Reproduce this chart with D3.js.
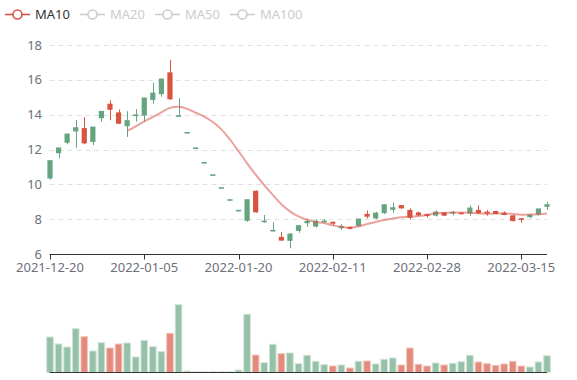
<!DOCTYPE html>
<html>
<head>
<meta charset="utf-8">
<script src="https://cdn.jsdelivr.net/npm/d3@7/dist/d3.min.js"></script>
<style>
  html, body { margin: 0; padding: 0; background: #fff; }
  svg { display: block; font-family: "Noto Sans", sans-serif; }
</style>
</head>
<body>
<svg id="chart" width="577" height="380"></svg>
<script>
// trading days (categories)
var dates = [
  "2021-12-20","2021-12-21","2021-12-22","2021-12-23","2021-12-24","2021-12-27","2021-12-28","2021-12-29","2021-12-30","2021-12-31",
  "2022-01-04","2022-01-05","2022-01-06","2022-01-07","2022-01-10","2022-01-11","2022-01-12","2022-01-13","2022-01-14","2022-01-17",
  "2022-01-18","2022-01-19","2022-01-20","2022-01-21","2022-01-24","2022-01-25","2022-01-26","2022-01-27","2022-01-28","2022-02-07",
  "2022-02-08","2022-02-09","2022-02-10","2022-02-11","2022-02-14","2022-02-15","2022-02-16","2022-02-17","2022-02-18","2022-02-21",
  "2022-02-22","2022-02-23","2022-02-24","2022-02-25","2022-02-28","2022-03-01","2022-03-02","2022-03-03","2022-03-04","2022-03-07",
  "2022-03-08","2022-03-09","2022-03-10","2022-03-11","2022-03-14","2022-03-15","2022-03-16","2022-03-17","2022-03-18"
];
var opens = [
  10.29,11.74,12.34,12.99,13.23,12.39,13.75,14.63,14.13,13.29,
  13.87,13.90,14.80,15.13,16.43,13.91,12.95,12.06,11.23,10.52,
  9.78,9.09,8.48,7.86,9.63,7.80,7.29,6.98,6.71,7.28,
  7.72,7.53,7.82,7.85,7.44,7.55,7.57,8.30,8.00,8.30,
  8.49,8.81,8.53,8.39,8.30,8.16,8.39,8.30,8.33,8.28,
  8.53,8.43,8.47,8.37,8.22,8.05,8.07,8.22,8.66
];
var closes = [
  11.34,12.07,12.87,13.23,12.35,13.27,14.17,14.28,13.48,13.64,
  13.97,14.94,15.22,16.03,14.88,13.92,12.96,12.07,11.24,10.53,
  9.79,9.10,8.49,9.10,8.39,7.87,7.34,6.77,7.13,7.61,
  7.85,7.86,7.87,7.74,7.55,7.44,7.99,8.14,8.33,8.81,
  8.64,8.62,8.08,8.22,8.18,8.39,8.20,8.37,8.33,8.62,
  8.34,8.32,8.30,8.24,7.89,7.99,8.22,8.57,8.81
];
var lows = [
  10.27,11.49,12.30,12.10,12.30,12.25,13.60,13.68,13.46,12.72,
  13.60,13.60,14.63,15.03,14.85,13.91,12.95,12.06,11.23,10.52,
  9.78,9.09,8.48,7.85,8.37,7.80,7.29,6.76,6.33,7.22,
  7.55,7.52,7.80,7.64,7.38,7.42,7.56,8.04,8.00,8.29,
  8.37,8.60,7.99,8.20,8.10,8.15,8.19,8.22,8.27,8.18,
  8.30,8.20,8.29,8.23,7.87,7.80,8.05,8.20,8.53
];
var highs = [
  11.36,12.09,12.90,13.69,13.86,13.28,14.20,14.82,14.30,14.20,
  14.32,14.96,15.83,16.05,17.14,14.94,12.96,12.07,11.24,10.53,
  9.79,9.10,8.49,9.12,9.65,8.24,7.82,7.27,7.19,7.62,
  8.03,8.00,8.00,7.86,7.71,7.58,8.00,8.49,8.42,8.83,
  8.94,8.82,8.62,8.42,8.31,8.51,8.40,8.49,8.40,8.79,
  8.79,8.53,8.48,8.45,8.23,8.06,8.24,8.58,9.00
];
var volumes = [
  35.3,28.3,25.3,43.6,35.6,21.3,29.6,24.3,28.3,29.3,
  15.3,32.0,25.6,20.6,39.0,67.6,1.3,0.5,0.5,0.5,
  0.5,0.5,2.3,58.0,17.3,9.6,28.0,18.6,19.3,8.6,
  17.0,11.0,7.6,6.3,7.3,4.3,11.0,11.3,8.3,13.0,
  14.3,7.3,24.3,8.0,6.3,9.3,7.3,9.0,10.6,17.0,
  10.3,8.6,7.0,8.3,11.0,6.3,5.3,10.3,16.6
];
var priceTicks = [6, 8, 10, 12, 14, 16, 18];
var legendNames = ["MA10", "MA20", "MA50", "MA100"];
var legendOn = [true, false, false, false];

var upColor = "#64a47f", downColor = "#d9543f";
var volUp = "#94c1a7", volDown = "#e28a7c";
var maColor = "#d9534a";

var svg = d3.select("#chart");

var x = d3.scalePoint().domain(dates).range([50, 547]);
var y = d3.scaleLinear().domain([6, 18]).range([254, 45]);
var yv = d3.scaleLinear().domain([0, 80]).range([372.3, 292.3]);

var rows = dates.map(function(d, i){
  // candle sign: open vs close, a flat day looks at the day before
  var up;
  if (closes[i] > opens[i]) up = true;
  else if (closes[i] < opens[i]) up = false;
  else up = i > 0 ? closes[i - 1] <= closes[i] : true;
  // volume sign only looks at open vs close
  var volUpDay = !(opens[i] > closes[i]);
  return {date: d, o: opens[i], c: closes[i], l: lows[i], h: highs[i], v: volumes[i], up: up, vup: volUpDay};
});

// split lines
svg.append("g").selectAll("line")
  .data(priceTicks.slice(1)).enter()
  .append("line")
  .attr("x1", 49.5).attr("x2", 547)
  .attr("y1", d => Math.round(y(d)) + 0.5)
  .attr("y2", d => Math.round(y(d)) + 0.5)
  .style("stroke", "#e0e0e0")
  .style("stroke-dasharray", "5,4");

// y labels
svg.append("g").selectAll("text")
  .data(priceTicks).enter()
  .append("text")
  .attr("x", 42)
  .attr("y", d => y(d))
  .attr("dy", "0.35em")
  .attr("text-anchor", "end")
  .style("font-size", "13px")
  .style("fill", "#6e7079")
  .text(d => d);

// x axis
var tickDates = dates.filter((d, i) => i % 11 === 0);
var xAxis = svg.append("g");
xAxis.append("line")
  .attr("x1", 49.5).attr("x2", 547)
  .attr("y1", 254.5).attr("y2", 254.5)
  .style("stroke", "#333").style("stroke-width", 1);
xAxis.selectAll(".tk").data(tickDates).enter()
  .append("line")
  .attr("x1", d => Math.round(x(d)) + 0.5).attr("x2", d => Math.round(x(d)) + 0.5)
  .attr("y1", 254.5).attr("y2", 259.5)
  .style("stroke", "#333");
xAxis.selectAll("text").data(tickDates).enter()
  .append("text")
  .attr("x", d => x(d))
  .attr("y", 267.5)
  .attr("dy", "0.35em")
  .attr("text-anchor", "middle")
  .style("font-size", "13px")
  .style("fill", "#6e7079")
  .text(d => d);

// candles
var candles = svg.append("g").selectAll("g")
  .data(rows).enter().append("g");
candles.append("line")
  .attr("x1", d => Math.round(x(d.date)) + 0.5)
  .attr("x2", d => Math.round(x(d.date)) + 0.5)
  .attr("y1", d => y(d.h))
  .attr("y2", d => y(d.l))
  .style("stroke", d => d.up ? upColor : downColor)
  .style("stroke-width", 1);
candles.append("rect")
  .attr("x", d => x(d.date) - 2.6)
  .attr("width", 5.2)
  .attr("y", d => Math.min(y(Math.max(d.o, d.c)), y(d.c) - 0.8))
  .attr("height", d => Math.max(1.6, Math.abs(y(d.o) - y(d.c))))
  .attr("fill", d => d.up ? upColor : downColor);

// MA10 from closes
var ma10 = rows.map(function(d, i){
  if (i < 9) return null;
  return {date: d.date, v: d3.mean(closes.slice(i - 9, i + 1))};
}).filter(d => d);

svg.append("path")
  .datum(ma10)
  .attr("d", d3.line().x(d => x(d.date)).y(d => y(d.v)).curve(d3.curveCatmullRom))
  .attr("fill", "none")
  .style("stroke", maColor)
  .style("stroke-opacity", 0.55)
  .style("stroke-width", 2);

// volume bars
svg.append("g").selectAll("rect")
  .data(rows).enter()
  .append("rect")
  .attr("x", d => x(d.date) - 3.3)
  .attr("width", 6.6)
  .attr("y", d => yv(d.v))
  .attr("height", d => yv(0) - yv(d.v))
  .attr("fill", d => d.vup ? volUp : volDown)
  .style("stroke", d => d.vup ? "#cfe3d7" : "#f1c5be")
  .style("stroke-width", 1);

svg.append("line")
  .attr("x1", 49.5).attr("x2", 547)
  .attr("y1", 372.5).attr("y2", 372.5)
  .style("stroke", "#333");

// legend
var lx = 5;
legendNames.forEach(function(name, i){
  var col = legendOn[i] ? maColor : "#ccc";
  var g = svg.append("g");
  g.append("line")
    .attr("x1", lx).attr("x2", lx + 25)
    .attr("y1", 14.5).attr("y2", 14.5)
    .style("stroke", col).style("stroke-width", 1.6);
  g.append("circle")
    .attr("cx", lx + 12.5).attr("cy", 14.5).attr("r", 4.5)
    .attr("fill", "#fff")
    .style("stroke", col).style("stroke-width", 1.6);
  var t = g.append("text")
    .attr("x", lx + 30).attr("y", 14.5).attr("dy", "0.35em")
    .style("font-size", "13px")
    .style("fill", legendOn[i] ? "#333" : "#ccc")
    .text(name);
  lx += 30 + t.node().getComputedTextLength() + 10;
});
</script>
</body>
</html>
